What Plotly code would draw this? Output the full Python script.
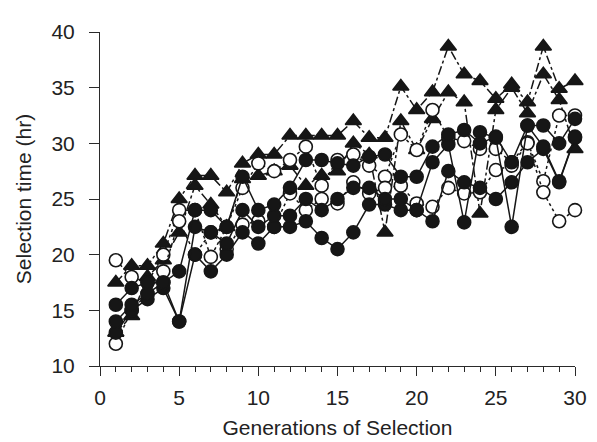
import plotly.graph_objects as go

generations = list(range(1, 31))

filled_1 = [13, 15, 16, 17, 14, 20, 18.5, 20, 22, 21, 22.5, 22.5, 23, 21.5, 20.5, 22, 24.5, 24.5, 24, 24,
            23, 27.5, 26.5, 26, 25, 26.5, 28.3, 29.5, 26.5, 30.5]
filled_2 = [14, 15.5, 16.5, 17.5, 14, 22.5, 22, 21, 24, 22.5, 23.5, 23.5, 25, 24, 25, 26, 26, 25, 25, 24,
            28.3, 29.9, 22.9, 31, 30.5, 22.5, 31.6, 31.6, 30, 32.2]
filled_3 = [15.5, 17, 17.5, 17.5, 18.5, 24, 24, 22.5, 27, 24, 24.5, 26, 28.5, 28.5, 28.2, 28, 28.8, 29, 27, 27,
            29.7, 30.8, 31.2, 30, 30.6, 28.3, 31.6, 29.7, 26.6, 30.6]
open_1 = [19.5, 18, 17.5, 20, 24, 24, 19.8, 22.5, 26, 28.2, 27.5, 28.5, 29.7, 26.2, 28.5, 29, 28, 27, 30.8, 29.4,
          33, 30.5, 30.2, 29.5, 29.5, 28.3, 30.1, 26.6, 32.5, 32.5]
open_2 = [12, 15, 16.5, 18.5, 23, 20, 22, 20.5, 22.7, 23, 22.5, 25.5, 24, 25, 24.6, 26.5, 25.5, 26, 26.2, 24.6,
          24.3, 26, 25.5, 25.6, 27.6, 28, 30, 25.6, 23, 24]
tri_1 = [17.5, 19, 19, 21, 25, 27.1, 27.1, 25.6, 28.2, 29, 29, 30.7, 30.7, 30.7, 30.7, 32, 30.5, 30.5, 35.1, 33,
         34.6, 38.7, 36.2, 35.6, 34, 35.3, 33.7, 38.7, 34.9, 35.6]
tri_2 = [13, 14.5, 18, 19.5, 22, 26.2, 24.5, 22.5, 26.8, 27.1, 27.5, 28, 26.2, 27.1, 27.5, 30, 29, 22, 32, 29.4,
         32.2, 34.6, 33.7, 23.7, 33, 35, 32.7, 36.2, 33.9, 29.5]

x_ticks = [0, 5, 10, 15, 20, 25, 30]
y_ticks = [10, 15, 20, 25, 30, 35, 40]

INK = "#161616"
AX = "#2a2a2a"
fig = go.Figure()

def add(y, symbol, fill, dash):
    fig.add_trace(go.Scatter(
        x=generations, y=y, mode="lines+markers", cliponaxis=False,
        line=dict(color=INK, width=1.5, dash=dash),
        marker=dict(symbol=symbol, size=14 if symbol == "triangle-up" else 13,
                    color=fill, line=dict(color=INK, width=1.6)),
        showlegend=False))

add(tri_1, "triangle-up", INK, "dashdot")
add(tri_2, "triangle-up", INK, "dashdot")
add(open_1, "circle", "white", "dot")
add(open_2, "circle", "white", "dot")
add(filled_1, "circle", INK, "solid")
add(filled_2, "circle", INK, "solid")
add(filled_3, "circle", INK, "solid")

font = dict(family="Liberation Sans, Arial, sans-serif", size=21, color="#222")
fig.update_layout(
    width=597, height=442,
    margin=dict(l=92, r=30, t=20, b=84),
    plot_bgcolor="white", paper_bgcolor="white",
    font=font,
)
fig.update_xaxes(
    range=[0, 30], tickvals=x_ticks, showgrid=False, zeroline=False,
    showline=True, linecolor=AX, linewidth=1,
    ticks="outside", ticklen=9, tickcolor=AX, tickwidth=1,
    minor=dict(dtick=1, ticks="outside", ticklen=5, tickcolor=AX, tickwidth=1),
    title=dict(text="Generations of Selection", font=dict(size=21), standoff=12),
    ticklabelstandoff=4,
)
fig.update_yaxes(
    range=[10, 40], tickvals=y_ticks, showgrid=False, zeroline=False,
    showline=True, linecolor=AX, linewidth=1,
    ticks="outside", ticklen=10, tickcolor=AX, tickwidth=1,
    title=dict(text="Selection time (hr)", font=dict(size=21), standoff=14),
    ticklabelstandoff=10,
)
fig.write_html("out.html")
